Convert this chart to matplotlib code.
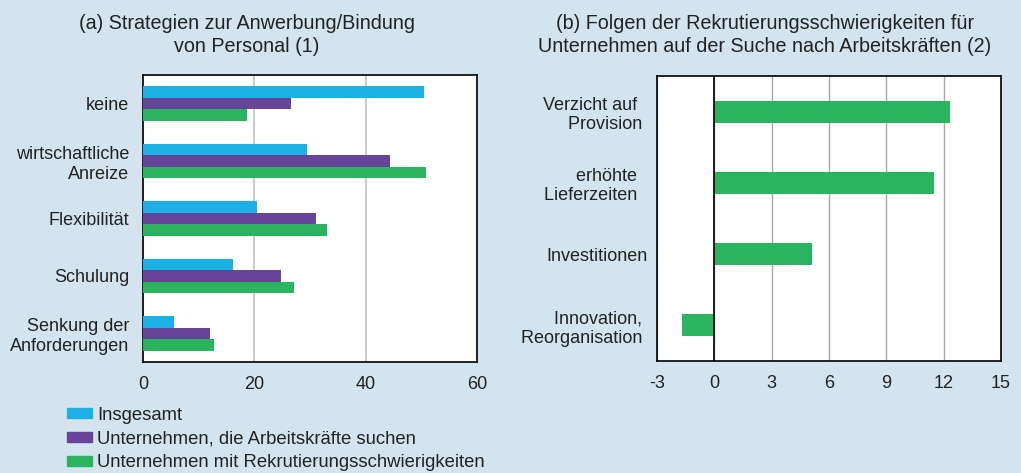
import numpy as np
import matplotlib.pyplot as plt
from matplotlib.patches import Patch

# left panel data
cats_a = ["keine", "wirtschaftliche\nAnreize", "Flexibilität", "Schulung",
          "Senkung der\nAnforderungen"]
insgesamt = [50.5, 29.4, 20.4, 16.2, 5.6]
suchen = [26.5, 44.4, 31.0, 24.8, 12.0]
schwierig = [18.6, 50.8, 33.1, 27.1, 12.7]
series_names = ["Insgesamt", "Unternehmen, die Arbeitskräfte suchen",
                "Unternehmen mit Rekrutierungsschwierigkeiten"]

# right panel data
cats_b = ["Verzicht auf  \nProvision ", "erhöhte  \nLieferzeiten  ", "Investitionen",
          "Innovation, \nReorganisation "]
folgen = [12.35, 11.5, 5.1, -1.7]

bg = "#d3e4ee"
c_blue = "#1cb0e4"
c_purple = "#664497"
c_green = "#2bb45f"
txt = "#222222"

plt.rcParams["font.family"] = "Liberation Sans"
plt.rcParams["text.color"] = txt
plt.rcParams["axes.unicode_minus"] = False

fig = plt.figure(figsize=(10.21, 4.73), dpi=100, facecolor=bg)

# (a)
ax1 = fig.add_axes([143 / 1021, 1 - 362 / 473, 334 / 1021, 287 / 473])
y = np.arange(len(cats_a))
h = 0.2
ax1.barh(y - h, insgesamt, height=h, color=c_blue, zorder=3)
ax1.barh(y, suchen, height=h, color=c_purple, zorder=3)
ax1.barh(y + h, schwierig, height=h, color=c_green, zorder=3)
ax1.set_ylim(len(cats_a) - 0.5, -0.5)
ax1.set_xlim(0, 60)
ax1.set_xticks([0, 20, 40, 60])
ax1.set_yticks(y)
ax1.set_yticklabels(cats_a, multialignment="right")
ax1.grid(axis="x", color="#cccccc", linewidth=1.5, zorder=0)
ax1.tick_params(length=0, labelsize=13, colors=txt)
ax1.tick_params(axis="y", pad=10)
ax1.tick_params(axis="x", pad=10)
for s in ax1.spines.values():
    s.set_color("black")
    s.set_linewidth(1.2)

fig.text(247 / 1021, 1 - 35 / 473,
         "(a) Strategien zur Anwerbung/Bindung\nvon Personal (1)",
         ha="center", va="center", fontsize=14.2, linespacing=1.3)

# (b)
ax2 = fig.add_axes([657 / 1021, 1 - 361 / 473, 344 / 1021, 285 / 473])
y2 = np.arange(len(cats_b))
ax2.barh(y2, folgen, height=0.31, color=c_green, zorder=3)
ax2.set_ylim(len(cats_b) - 0.5, -0.5)
ax2.set_xlim(-3, 15)
ax2.set_xticks([-3, 0, 3, 6, 9, 12, 15])
ax2.set_yticks(y2)
ax2.set_yticklabels(cats_b, multialignment="right")
ax2.grid(axis="x", color="#a8a8a8", linewidth=1, zorder=0)
ax2.axvline(0, color="black", linewidth=1.2, zorder=4)
ax2.tick_params(length=0, labelsize=13, colors=txt)
ax2.tick_params(axis="y", pad=7)
ax2.tick_params(axis="x", pad=10)
for s in ax2.spines.values():
    s.set_color("black")
    s.set_linewidth(1.2)

fig.text(765 / 1021, 1 - 35 / 473,
         "(b) Folgen der Rekrutierungsschwierigkeiten für\n"
         "Unternehmen auf der Suche nach Arbeitskräften (2)",
         ha="center", va="center", fontsize=14.2, linespacing=1.3)

# legend
handles = [Patch(color=c) for c in (c_blue, c_purple, c_green)]
fig.legend(handles, series_names, loc="upper left",
           bbox_to_anchor=(67 / 1021, 1 - 407 / 473), frameon=False,
           fontsize=13.3, handlelength=1.35, handleheight=0.45,
           handletextpad=0.3, labelspacing=0.36, borderpad=0, borderaxespad=0)

fig.savefig("out.png", dpi=100, facecolor=bg)
